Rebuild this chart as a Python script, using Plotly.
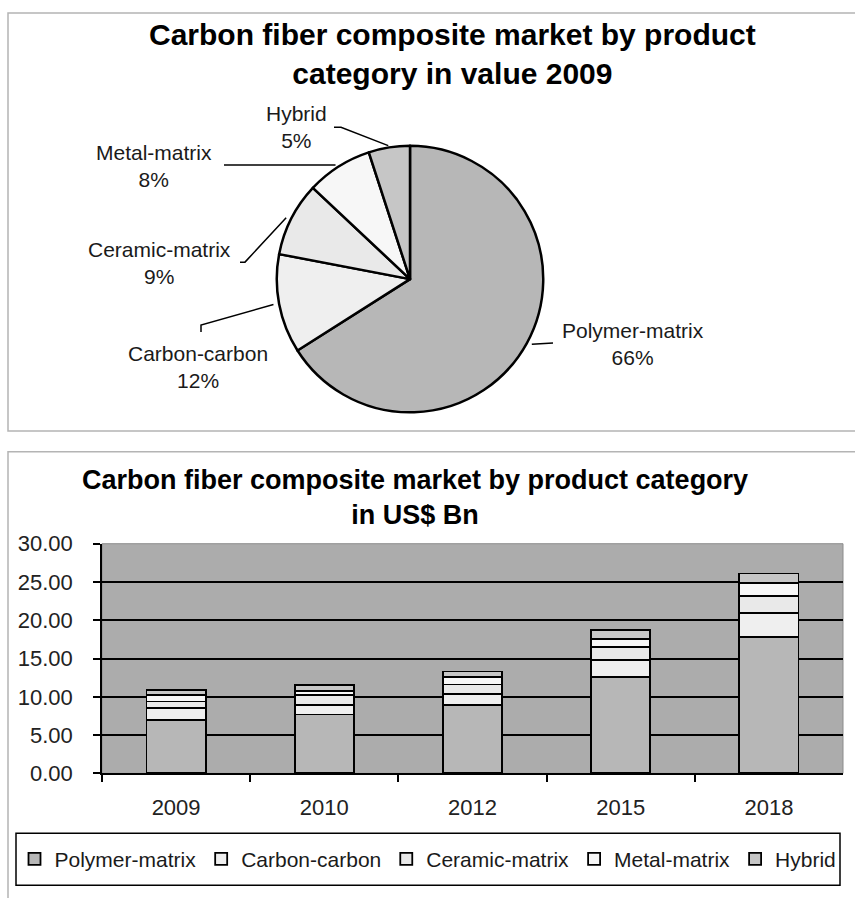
import math
import plotly.graph_objects as go

W, H = 855, 912
# vertical placement: page row = OFF + SCALE * figure row
OFF, SCALE = 9.5, 0.974

# 2009 product-category shares (%)
pie_labels = ["Polymer-matrix", "Carbon-carbon", "Ceramic-matrix", "Metal-matrix", "Hybrid"]
pie_values = [66, 12, 9, 8, 5]

# Market size by year, US$ Bn (stacked bottom to top)
years = ["2009", "2010", "2012", "2015", "2018"]
polymer = [7.0, 7.7, 8.9, 12.6, 17.8]
carbon_carbon = [1.5, 1.2, 1.5, 2.2, 3.2]
ceramic = [0.9, 1.3, 1.2, 1.7, 2.2]
metal = [0.8, 0.6, 1.0, 1.1, 1.7]
hybrid = [0.7, 0.7, 0.7, 1.1, 1.2]

series = {
    "Polymer-matrix": polymer,
    "Carbon-carbon": carbon_carbon,
    "Ceramic-matrix": ceramic,
    "Metal-matrix": metal,
    "Hybrid": hybrid,
}

fills = {
    "Polymer-matrix": "#b7b7b7",
    "Carbon-carbon": "#efefef",
    "Ceramic-matrix": "#e9e9e9",
    "Metal-matrix": "#f7f7f7",
    "Hybrid": "#c6c6c6",
}

FONT = "Liberation Sans, Arial, sans-serif"


def px(x):
    return x / W


def fy(y):
    """page row -> figure row"""
    return (y - OFF) / SCALE


def pfy(yf):
    """figure row -> paper fraction"""
    return 1 - yf / H


def py(y):
    """page row -> paper fraction"""
    return pfy(fy(y))


# pie geometry (x in page pixels, radius in figure pixels)
CX, CY, R = 410, 277, 137
CYF = fy(CY)

fig = go.Figure()

fig.add_trace(go.Pie(
    labels=pie_labels,
    values=pie_values,
    sort=False,
    direction="clockwise",
    rotation=0,
    textinfo="none",
    showlegend=False,
    marker=dict(colors=[fills[l] for l in pie_labels],
                line=dict(color="black", width=2.5)),
    domain=dict(x=[px(CX - R), px(CX + R)], y=[pfy(CYF + R), pfy(CYF - R)]),
))

for name, vals in series.items():
    fig.add_trace(go.Bar(
        x=years, y=vals, name=name,
        marker=dict(color=fills[name], line=dict(color="black", width=1.8)),
    ))

shapes = []
annotations = []

# outer frames of the two panels
shapes.append(dict(type="rect", xref="paper", yref="paper",
                   x0=px(8), x1=px(W + 20), y0=py(429), y1=pfy(1),
                   line=dict(color="#b4b4b4", width=1.5), layer="below"))
shapes.append(dict(type="rect", xref="paper", yref="paper",
                   x0=px(8), x1=px(W + 20), y0=-0.05, y1=py(450),
                   line=dict(color="#b4b4b4", width=1.5), layer="below"))

# pie labels with leader lines (None keeps the previous point's y)
label_pos = {
    "Polymer-matrix": (633, 342),
    "Carbon-carbon": (198, 365),
    "Ceramic-matrix": (159, 261),
    "Metal-matrix": (154, 164),
    "Hybrid": (296, 125),
}
leader_tail = {
    "Polymer-matrix": [(553, 341)],
    "Carbon-carbon": [(201, 323), (201, 330)],
    "Ceramic-matrix": [(245, 260), (240, 260)],
    "Metal-matrix": [(224, None)],
    "Hybrid": [(341, 125), (334, 125)],
}
total = sum(pie_values)
cum = 0
for lab, v in zip(pie_labels, pie_values):
    mid = (cum + v / 2) / total * 2 * math.pi
    cum += v
    sx = CX + (R + 2) * math.sin(mid)
    syf = CYF - (R + 2) * math.cos(mid)
    pts = [(px(sx), pfy(syf))]
    for x, y in leader_tail[lab]:
        pts.append((px(x), pts[-1][1] if y is None else py(y)))
    path = "M " + " L ".join(f"{x:.5f},{y:.5f}" for x, y in pts)
    shapes.append(dict(type="path", xref="paper", yref="paper", path=path,
                       line=dict(color="black", width=1.5)))
    tx, ty = label_pos[lab]
    annotations.append(dict(
        xref="paper", yref="paper", x=px(tx), y=py(ty),
        xanchor="center", yanchor="middle", showarrow=False,
        text=f"{lab}<br>{v}%", align="center",
        font=dict(family=FONT, size=21, color="#1a1a1a"),
    ))

# titles
annotations.append(dict(
    xref="paper", yref="paper", x=px(452), y=py(52), xanchor="center", yanchor="middle",
    showarrow=False, align="center",
    text="<b>Carbon fiber composite market by product<br>category in value 2009</b>",
    font=dict(family=FONT, size=30, color="black"),
))
annotations.append(dict(
    xref="paper", yref="paper", x=px(415), y=py(496), xanchor="center", yanchor="middle",
    showarrow=False, align="center",
    text="<b>Carbon fiber composite market by product category<br>in US$ Bn</b>",
    font=dict(family=FONT, size=27, color="black"),
))

# plot-area outline and legend box
shapes.append(dict(type="rect", xref="x domain", yref="y domain",
                   x0=0, x1=1, y0=0, y1=1,
                   line=dict(color="#8c8c8c", width=1), layer="below"))
shapes.append(dict(type="rect", xref="paper", yref="paper",
                   x0=px(16), x1=px(840), y0=py(884), y1=py(832),
                   line=dict(color="black", width=1.5), fillcolor="white", layer="below"))

fig.update_layout(
    width=W, height=H,
    margin=dict(l=0, r=0, t=0, b=0),
    paper_bgcolor="white",
    plot_bgcolor="#acacac",
    font=dict(family=FONT, size=21, color="#1a1a1a"),
    barmode="stack",
    bargap=0.6,
    shapes=shapes,
    annotations=annotations,
    xaxis=dict(
        domain=[px(102), px(843)],
        type="category",
        showline=True, linecolor="black", linewidth=1.5,
        ticks="outside", tickson="boundaries", ticklen=7,
        tickcolor="black", tickwidth=1.5,
        showgrid=False,
        tickfont=dict(family=FONT, size=22, color="#222"),
        ticklabelstandoff=13,
    ),
    yaxis=dict(
        domain=[py(772), py(542)],
        range=[0, 30], dtick=5, tickformat=".2f",
        showgrid=True, gridcolor="black", gridwidth=1.5,
        showline=True, linecolor="black", linewidth=1.5,
        ticks="outside", ticklen=7, tickcolor="black", tickwidth=1.5,
        zeroline=False,
        tickfont=dict(family=FONT, size=22, color="#222"),
        ticklabelstandoff=16,
    ),
    legend=dict(
        orientation="h",
        x=px(428), xanchor="center",
        y=py(858), yanchor="middle",
        bgcolor="rgba(0,0,0,0)",
        borderwidth=0,
        font=dict(family=FONT, size=21, color="#1a1a1a"),
        traceorder="normal",
    ),
)

fig.write_html("out.html")
